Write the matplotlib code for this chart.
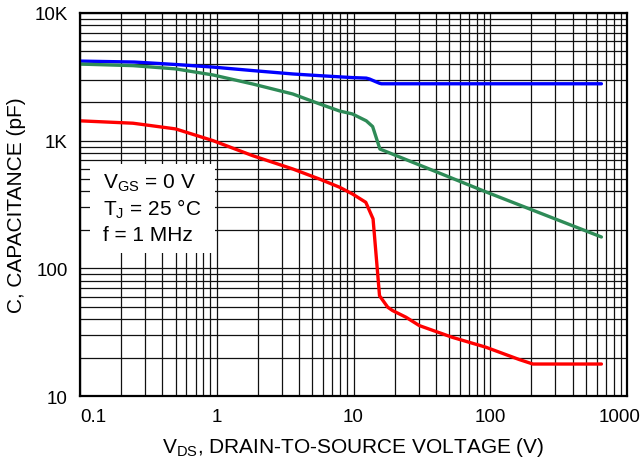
import numpy as np
import matplotlib
matplotlib.use('Agg')
import matplotlib.pyplot as plt
from matplotlib.ticker import FixedLocator, FixedFormatter, LogLocator, NullFormatter
from matplotlib.patches import Rectangle
from matplotlib.transforms import offset_copy

plt.rcParams['font.family'] = ['Liberation Sans', 'DejaVu Sans']
plt.rcParams['mathtext.fontset'] = 'custom'
plt.rcParams['mathtext.rm'] = 'Liberation Sans'

# ─── data ───────────────────────────────────────────────────────────────
ciss_v = [0.1, 0.25, 0.5, 0.94, 1.83, 3.6, 5.65, 9.8, 12.4, 13.1, 14.5, 15.5, 16, 100, 650]
ciss_c = [4200, 4130, 3950, 3770, 3540, 3330, 3230, 3120, 3090, 3040, 2900, 2815, 2790, 2790, 2790]

coss_v = [0.1, 0.244, 0.5, 0.94, 1.83, 3.6, 5.65, 7.9, 9.8, 12.4, 13.8, 15.6, 93, 650]
coss_c = [3980, 3870, 3650, 3270, 2780, 2320, 1940, 1708, 1620, 1430, 1290, 860, 397, 176]

crss_v = [0.1, 0.244, 0.5, 0.94, 1.83, 3.6, 5.65, 7.9, 9.8, 12.3, 13.9, 15.5, 17.8, 19.3,
          24.2, 30.3, 52.9, 93, 163, 205, 650]
crss_c = [1430, 1370, 1236, 1000, 763, 600, 500, 432, 383, 329, 244, 61, 49.6, 46.7,
          41.4, 35.6, 28.8, 24.1, 19.3, 17.8, 17.8]

x_ticks = [0.1, 1, 10, 100, 1000]
x_labels = ['0.1', '1', '10', '100', '1000']
y_ticks = [10, 100, 1000, 10000]
y_labels = ['10', '100', '1K', '10K']

# ─── plot ───────────────────────────────────────────────────────────────
fig = plt.figure(figsize=(6.44, 4.64), dpi=100)
ax = fig.add_axes([80 / 644, 1 - 397 / 464, 547 / 644, 383 / 464])

ax.set_xscale('log')
ax.set_yscale('log')
ax.set_xlim(0.1, 1000)
ax.set_ylim(10, 10000)

ax.plot(ciss_v, ciss_c, color='#0000ff', lw=2.4, zorder=3, solid_capstyle='round')
ax.plot(coss_v, coss_c, color='#2e8b57', lw=2.4, zorder=3, solid_capstyle='round')
ax.plot(crss_v, crss_c, color='#ff0000', lw=2.4, zorder=3, solid_capstyle='round')

ax.xaxis.set_major_locator(FixedLocator(x_ticks))
ax.xaxis.set_major_formatter(FixedFormatter(x_labels))
ax.yaxis.set_major_locator(FixedLocator(y_ticks))
ax.yaxis.set_major_formatter(FixedFormatter(y_labels))
for axis in (ax.xaxis, ax.yaxis):
    axis.set_minor_locator(LogLocator(base=10, subs=np.arange(2, 10)))
    axis.set_minor_formatter(NullFormatter())

ax.grid(True, which='both', color='#111111', lw=0.9)
ax.tick_params(which='both', length=0)
ax.tick_params(axis='x', pad=9, labelsize=13.5)
ax.tick_params(axis='y', pad=9, labelsize=13.5)
for s in ax.spines.values():
    s.set_linewidth(1.6)
    s.set_zorder(4)

xl = ax.get_xticklabels()
xl[0].set_horizontalalignment('left')
xl[-1].set_transform(offset_copy(xl[-1].get_transform(), fig=fig, x=-7, units='dots'))

# condition box
ax.add_patch(Rectangle((10 / 547, (397 - 254) / 383), 125 / 547, 89 / 383,
                       transform=ax.transAxes, fc='white', ec='none', zorder=1.8))
box_txt = [r'V$_{\mathregular{GS}}$ = 0 V', r'T$_{\mathregular{J}}$ = 25 °C', 'f = 1 MHz']
for i, t in enumerate(box_txt):
    ax.text(23 / 547, (397 - 183 - 26.5 * i) / 383, t, transform=ax.transAxes,
            ha='left', va='center', fontsize=15, zorder=5)

ax.set_xlabel(r'V$_{\mathregular{DS}}$, DRAIN-TO-SOURCE VOLTAGE (V)', fontsize=15, labelpad=6.5)
ax.set_ylabel('C, CAPACITANCE (pF)', fontsize=15, labelpad=6)

plt.savefig('out.png', dpi=100)
plt.close()
